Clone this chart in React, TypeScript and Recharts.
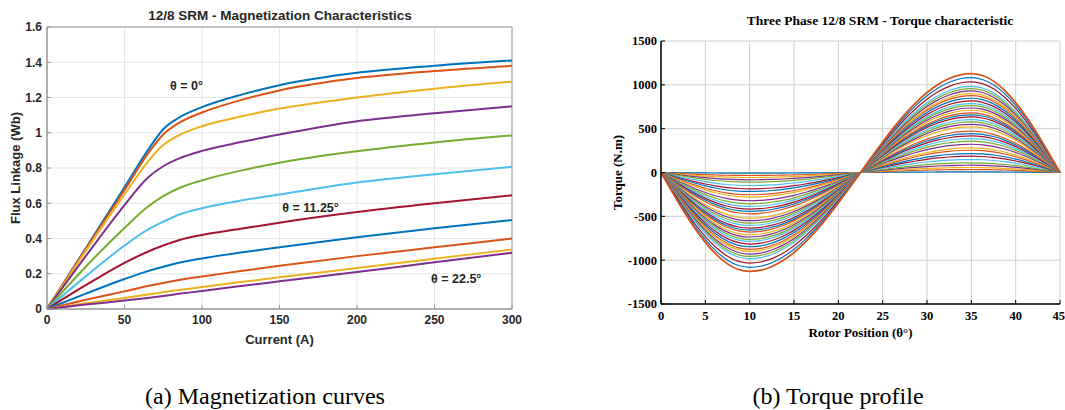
import React from 'react';
import { LineChart, Line, XAxis, YAxis, CartesianGrid, ReferenceDot, ReferenceArea } from 'recharts';

const MATLAB_COLORS = ['#0072BD', '#D95319', '#EDB120', '#7E2F8E', '#77AC30', '#4DBEEE', '#A2142F'];

// ---------- (a) Magnetization curves ----------
const currents = [0, 25, 50, 65, 75, 85, 100, 125, 150, 200, 250, 300];
const currentTicks = [0, 50, 100, 150, 200, 250, 300];
const fluxTicks = [0, 0.2, 0.4, 0.6, 0.8, 1, 1.2, 1.4, 1.6];

const flux_0 = [0, 0.345, 0.69, 0.9, 1.02, 1.085, 1.145, 1.215, 1.27, 1.34, 1.38, 1.41];
const flux_2_25 = [0, 0.34, 0.675, 0.88, 0.99, 1.055, 1.115, 1.185, 1.24, 1.31, 1.35, 1.38];
const flux_4_5 = [0, 0.33, 0.65, 0.835, 0.93, 0.985, 1.037, 1.092, 1.137, 1.2, 1.25, 1.29];
const flux_6_75 = [0, 0.3, 0.59, 0.745, 0.81, 0.853, 0.897, 0.947, 0.99, 1.065, 1.11, 1.15];
const flux_9 = [0, 0.24, 0.46, 0.58, 0.64, 0.685, 0.73, 0.785, 0.83, 0.895, 0.945, 0.985];
const flux_11_25 = [0, 0.185, 0.36, 0.45, 0.495, 0.535, 0.572, 0.615, 0.65, 0.718, 0.765, 0.807];
const flux_13_5 = [0, 0.135, 0.262, 0.325, 0.36, 0.39, 0.42, 0.455, 0.49, 0.55, 0.6, 0.645];
const flux_15_75 = [0, 0.087, 0.17, 0.215, 0.24, 0.262, 0.287, 0.32, 0.35, 0.407, 0.458, 0.505];
const flux_18 = [0, 0.052, 0.1, 0.13, 0.148, 0.165, 0.185, 0.215, 0.245, 0.3, 0.35, 0.4];
const flux_20_25 = [0, 0.032, 0.063, 0.082, 0.095, 0.108, 0.125, 0.153, 0.18, 0.232, 0.285, 0.338];
const flux_22_5 = [0, 0.025, 0.048, 0.063, 0.074, 0.086, 0.102, 0.13, 0.157, 0.21, 0.265, 0.319];

const fluxSeries = [flux_0, flux_2_25, flux_4_5, flux_6_75, flux_9, flux_11_25, flux_13_5, flux_15_75, flux_18, flux_20_25, flux_22_5];

const magData = currents.map((c, i) => {
  const row: Record<string, number> = { current: c };
  fluxSeries.forEach((s, k) => { row['f' + k] = s[i]; });
  return row;
});

// ---------- (b) Torque profile ----------
const rotorPositions = [0, 1.25, 2.5, 3.75, 5, 6.25, 7.5, 8.75, 10, 11.25, 12.5, 13.75, 15, 16.25, 17.5, 18.75, 20, 21.25, 22.5,
  23.75, 25, 26.25, 27.5, 28.75, 30, 31.25, 32.5, 33.75, 35, 36.25, 37.5, 38.75, 40, 41.25, 42.5, 43.75, 45];
// normalised torque shape of the outer curve
const torqueShape = [0, -0.195, -0.383, -0.556, -0.707, -0.831, -0.924, -0.981, -1.0, -0.988, -0.951, -0.891, -0.809, -0.707, -0.588, -0.454, -0.309, -0.156, 0,
  0.156, 0.309, 0.454, 0.588, 0.707, 0.809, 0.891, 0.951, 0.988, 1.0, 0.981, 0.924, 0.831, 0.707, 0.556, 0.383, 0.195, 0];
// peak torque of each curve (N.m), read at 35 deg
const torquePeaks = [7, 34, 57, 83, 110, 148, 186, 216, 254, 281, 322, 357, 387, 417, 444, 471, 520, 550, 577, 603,
  634, 657, 679, 710, 736, 763, 786, 816, 847, 877, 900, 930, 957, 983, 1033, 1082, 1128];
const positionTicks = [0, 5, 10, 15, 20, 25, 30, 35, 40, 45];
const torqueTicks = [-1500, -1000, -500, 0, 500, 1000, 1500];

const torqueData = rotorPositions.map((p, i) => {
  const row: Record<string, number> = { pos: p };
  torquePeaks.forEach((pk, k) => { row['t' + k] = torqueShape[i] * pk; });
  return row;
});

const sans = 'Liberation Sans, Arial, Helvetica, sans-serif';
const serif = 'Liberation Serif, Times New Roman, Times, serif';
const matText = '#262626';

export default function App() {
  return (
    <div style={{ position: 'absolute', left: 0, top: 0, width: 1065, height: 410, background: '#fff', overflow: 'hidden' }}>
      <div style={{ position: 'absolute', left: 0, top: 0 }}>
        <LineChart width={530} height={350} data={magData} margin={{ top: 27, right: 18, bottom: 0, left: 0 }}>
          <CartesianGrid stroke="#e6e6e6" strokeWidth={1} />
          <XAxis
            dataKey="current"
            type="number"
            domain={[0, 300]}
            ticks={currentTicks}
            height={41}
            axisLine={{ stroke: '#999999', strokeWidth: 1 }}
            tickLine={{ stroke: '#999999' }}
            tickSize={-4}
            tickMargin={10}
            tick={{ fill: matText, fontSize: 12, fontWeight: 700, fontFamily: sans }}
            label={{ value: 'Current (A)', position: 'insideBottom', offset: 6, fill: matText, fontSize: 13, fontWeight: 700, fontFamily: sans }}
          />
          <YAxis
            type="number"
            domain={[0, 1.6]}
            ticks={fluxTicks}
            width={47}
            axisLine={{ stroke: '#999999', strokeWidth: 1 }}
            tickLine={{ stroke: '#999999' }}
            tickSize={-4}
            tickMargin={9}
            tick={{ fill: matText, fontSize: 12, fontWeight: 700, fontFamily: sans }}
            label={{ value: 'Flux Linkage (Wb)', angle: -90, position: 'insideLeft', offset: 15, style: { textAnchor: 'middle' }, fill: matText, fontSize: 13, fontWeight: 700, fontFamily: sans }}
          />
          <ReferenceArea x1={0} x2={300} y1={0} y2={1.6} fill="none" stroke="#999999" strokeWidth={1} ifOverflow="visible" />
          {fluxSeries.map((_, k) => (
            <Line
              key={k}
              dataKey={'f' + k}
              type="monotone"
              stroke={MATLAB_COLORS[k % 7]}
              strokeWidth={2}
              dot={false}
              isAnimationActive={false}
            />
          ))}
          <ReferenceDot x={90} y={1.27} r={0} ifOverflow="visible"
            label={{ value: 'θ = 0°', position: 'center', fill: matText, fontSize: 12.5, fontWeight: 700, fontFamily: sans }} />
          <ReferenceDot x={170} y={0.573} r={0} ifOverflow="visible"
            label={{ value: 'θ = 11.25°', position: 'center', fill: matText, fontSize: 12.5, fontWeight: 700, fontFamily: sans }} />
          <ReferenceDot x={264} y={0.17} r={0} ifOverflow="visible"
            label={{ value: 'θ = 22.5°', position: 'center', fill: matText, fontSize: 12.5, fontWeight: 700, fontFamily: sans }} />
        </LineChart>
      </div>

      <div style={{ position: 'absolute', left: 590, top: 0 }}>
        <LineChart width={475} height={350} data={torqueData} margin={{ top: 41, right: 5, bottom: 0, left: 0 }}>
          <CartesianGrid stroke="#cfcfcf" strokeWidth={1} />
          <XAxis
            dataKey="pos"
            type="number"
            domain={[0, 45]}
            ticks={positionTicks}
            height={46}
            axisLine={{ stroke: '#000', strokeWidth: 1.5 }}
            tickLine={{ stroke: '#000', strokeWidth: 1 }}
            tickSize={-4}
            tickMargin={11}
            tick={{ fill: '#000', fontSize: 12.5, fontWeight: 700, fontFamily: serif }}
            label={{ value: 'Rotor Position (θ°)', position: 'insideBottom', offset: 13, fill: '#000', fontSize: 13, fontWeight: 700, fontFamily: serif }}
          />
          <YAxis
            type="number"
            domain={[-1500, 1500]}
            ticks={torqueTicks}
            width={71}
            axisLine={{ stroke: '#000', strokeWidth: 1.5 }}
            tickLine={{ stroke: '#000', strokeWidth: 1 }}
            tickSize={-4}
            tickMargin={8}
            tick={{ fill: '#000', fontSize: 12.5, fontWeight: 700, fontFamily: serif }}
            label={{ value: 'Torque (N.m)', angle: -90, position: 'insideLeft', offset: 27, style: { textAnchor: 'middle' }, fill: '#000', fontSize: 13, fontWeight: 700, fontFamily: serif }}
          />
          {torquePeaks.map((_, k) => (
            <Line
              key={k}
              dataKey={'t' + k}
              type="monotone"
              stroke={MATLAB_COLORS[k % 7]}
              strokeWidth={k === torquePeaks.length - 1 ? 1.8 : 1.2}
              dot={false}
              isAnimationActive={false}
            />
          ))}
        </LineChart>
      </div>

      <svg width={1065} height={410} style={{ position: 'absolute', left: 0, top: 0, pointerEvents: 'none' }}>
        <text x={280} y={19.5} textAnchor="middle" fill={matText} fontSize={13.5} fontWeight={700} fontFamily={sans}>
          12/8 SRM - Magnetization Characteristics
        </text>
        <text x={880} y={24.5} textAnchor="middle" fill="#000" fontSize={13.5} fontWeight={700} fontFamily={serif}>
          Three Phase 12/8 SRM - Torque characteristic
        </text>
        <text x={265} y={404} textAnchor="middle" fill="#000" fontSize={24} fontFamily={serif}>
          (a) Magnetization curves
        </text>
        <text x={838} y={404} textAnchor="middle" fill="#000" fontSize={24} fontFamily={serif}>
          (b) Torque profile
        </text>
      </svg>
    </div>
  );
}
